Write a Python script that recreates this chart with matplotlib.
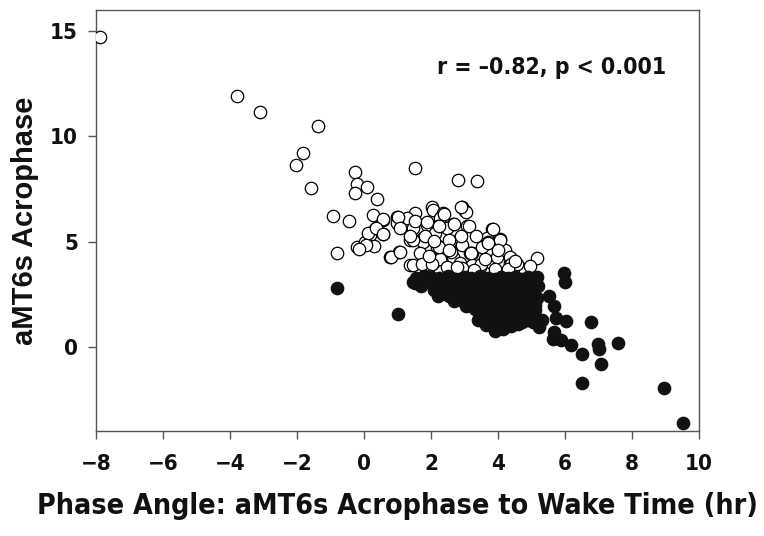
import numpy as np
import matplotlib
matplotlib.use("Agg")
from matplotlib import pyplot as plt
from matplotlib import font_manager

# Data ###################################################################
# open circles (acrophase >= ~3.5)
open_x = [-7.87, -3.8, -3.1, -1.36, -1.81, -2.03, -1.58, -0.26, -0.22, 0.1,
          -0.28, 0.38, -0.93, -0.46, 1.52, 2.79, 3.36, -0.82, -0.2, 5.15,
          0.28, 0.33, 0.18, 0.3, 0.03, 0.58, 0.98, 1.33, 1.52, 1.27,
          2.02, 2.05, 2.37, 2.92, 3.01, 2.27, 0.35, 0.13, 0.58, 0.98,
          1.47, 1.52, 1.87, 2.22, 2.67, 3.06, 2.47, 3.81, 4.06, 3.66,
          2.12, 1.77, 1.37, 2.57, 2.87, 2.2, 0.76, 1.05, 1.77, 2.17,
          2.92, 3.21, 2.67, 1.37, 1.72, 2.05, 2.27, 2.87, 3.21, 3.51,
          3.7, 3.16, 3.21, 2.92, 2.47, 3.76, 3.96, 4.21, 4.36, 4.66,
          4.81, 3.46, 3.9, 3.85, 4.07, 3.7, 4.36, 4.4, 4.8, 4.58,
          3.12, 3.05, 2.9, 2.39, 2.68, 1.01, 0.57, 0.36, 0.57, 0.06,
          -0.15, 0.79, 1.08, 1.45, 1.45, 1.67, 1.74, 2.03, 2.25, 2.61,
          2.76, 3.19, 3.48, 3.27, 4.29, 1.88, 2.25, 1.08, 1.37, 1.81,
          2.1, 2.54, 2.9, 3.34, 3.99, 4.5, 4.95, 3.6, 2.55, 1.95]
open_y = [14.68, 11.89, 11.16, 10.5, 9.18, 8.64, 7.53, 8.29, 7.72, 7.58,
          7.3, 7.03, 6.22, 5.98, 8.51, 7.91, 7.88, 4.45, 4.74, 4.21,
          6.28, 5.59, 5.32, 4.8, 5.0, 6.03, 6.19, 6.14, 6.35, 6.11,
          6.62, 6.5, 6.35, 6.66, 6.43, 6.11, 5.63, 5.4, 5.37, 5.87,
          5.63, 6.0, 5.79, 5.75, 5.84, 5.75, 5.63, 5.59, 5.11, 5.16,
          5.4, 5.16, 5.08, 5.0, 5.16, 4.8, 4.29, 4.53, 5.0, 4.76,
          4.84, 4.45, 4.29, 3.89, 3.97, 3.97, 4.2, 3.97, 3.81, 4.76,
          5.0, 4.45, 3.89, 3.74, 3.81, 4.05, 4.29, 4.61, 3.97, 3.74,
          3.66, 3.81, 3.7, 5.61, 5.1, 4.94, 4.29, 3.96, 3.64, 3.96,
          5.74, 6.39, 6.63, 6.31, 5.83, 6.15, 6.07, 5.66, 5.34, 4.85,
          4.64, 4.29, 4.53, 5.1, 3.88, 4.45, 3.96, 3.96, 4.77, 4.53,
          3.8, 4.45, 3.96, 3.64, 3.72, 5.91, 5.74, 5.66, 5.26, 5.26,
          5.02, 5.1, 5.26, 5.26, 4.61, 4.1, 3.85, 4.2, 4.6, 4.3]

# filled circles
fill_x = [-0.81, 1.01, 1.52, 1.69, 1.96, 2.22, 2.54, 2.95, 3.12, 3.56,
          3.7, 3.92, 4.14, 4.29, 4.72, 4.87, 5.23, 5.3, 5.09, 5.16,
          5.16, 5.52, 5.67, 5.74, 5.98, 6.0, 6.03, 6.76, 5.67, 5.64,
          5.89, 6.18, 6.5, 6.98, 7.02, 7.08, 7.59, 6.5, 8.94, 9.53,
          1.55, 1.8, 2.0, 2.25, 2.5, 2.75, 3.0, 3.2, 3.45, 3.7,
          3.9, 4.1, 4.3, 4.5, 4.7, 4.9, 5.1, 1.75, 2.3, 2.6,
          2.85, 3.1, 3.35, 3.6, 3.85, 4.05, 4.3, 4.55, 4.8, 5.0,
          5.2, 2.1, 2.45, 2.75, 3.0, 3.3, 3.55, 3.8, 4.0, 4.25,
          4.5, 4.75, 5.0, 2.55, 2.9, 3.15, 3.5, 3.75, 3.95, 4.2,
          4.45, 4.7, 4.95, 3.2, 3.55, 3.8, 4.05, 4.3, 4.55, 4.8,
          5.05, 3.3, 3.6, 3.85, 4.1, 4.35, 4.6, 4.85, 5.1, 3.75,
          4.0, 4.25, 4.5, 4.75, 5.0, 3.95, 4.2, 4.45, 5.05, 4.1,
          4.4, 3.4, 3.65, 4.15, 4.6, 2.7, 3.05, 1.45]
fill_y = [2.78, 1.57, 3.03, 2.91, 3.38, 2.43, 2.51, 2.18, 2.02, 1.54,
          1.21, 0.78, 1.05, 1.46, 1.21, 1.29, 0.97, 1.29, 2.02, 2.35,
          3.32, 2.43, 1.94, 1.38, 3.5, 3.07, 1.26, 1.21, 0.73, 0.4,
          0.32, 0.08, -0.32, 0.16, -0.08, -0.81, 0.21, -1.7, -1.94, -3.59,
          3.28, 3.35, 3.22, 3.3, 3.36, 3.25, 3.33, 3.27, 3.35, 3.3,
          3.24, 3.34, 3.28, 3.32, 3.25, 3.31, 3.22, 3.02, 2.95, 3.05,
          2.98, 3.08, 2.96, 3.04, 2.97, 3.06, 2.99, 3.03, 2.94, 3.05,
          2.9, 2.72, 2.65, 2.75, 2.68, 2.74, 2.66, 2.71, 2.64, 2.77,
          2.69, 2.73, 2.62, 2.4, 2.35, 2.45, 2.38, 2.42, 2.33, 2.44,
          2.37, 2.41, 2.36, 2.1, 2.15, 2.05, 2.12, 2.08, 2.14, 2.03,
          2.11, 1.82, 1.76, 1.85, 1.78, 1.83, 1.74, 1.8, 1.77, 1.52,
          1.47, 1.55, 1.49, 1.53, 1.45, 1.18, 1.24, 1.15, 1.2, 0.95,
          1.0, 1.3, 1.05, 0.88, 1.1, 2.2, 1.95, 3.1]

# Fonts: condensed bold if the machine has one ##########################
have_cond = any(f.name == 'DejaVu Sans' and f.stretch == 'condensed'
                for f in font_manager.fontManager.ttflist)
if have_cond:
    nfont = dict(family='DejaVu Sans', fontstretch='condensed')
    xl_size, tk_size, an_size = 20.5, 16, 16.5
else:
    nfont = dict(family=['Liberation Sans', 'DejaVu Sans'])
    xl_size, tk_size, an_size = 19, 14.5, 15.5
wfont = dict(family=['Liberation Sans', 'DejaVu Sans'])

# Figure ##################################################################
fig = plt.figure(figsize=(7.64, 5.36), dpi=100)
ax = fig.add_axes([0.1257, 0.195, 0.7893, 0.787])

ax.scatter(open_x, open_y, s=80, facecolors='white', edgecolors='black',
           linewidths=0.9, zorder=3)
ax.scatter(fill_x, fill_y, s=80, facecolors='#111111', edgecolors='#111111',
           linewidths=0.9, zorder=4)

ax.set_xlim(-8, 10)
ax.set_ylim(-4, 16)
ax.set_xticks(np.arange(-8, 11, 2))
ax.set_yticks([0, 5, 10, 15])
ax.set_xticklabels(['\u22128', '\u22126', '\u22124', '\u22122', '0', '2', '4', '6', '8', '10'])
for sp in ax.spines.values():
    sp.set_color('#555555')
    sp.set_linewidth(1.0)
ax.tick_params(direction='out', length=6, width=1, color='#555555')
ax.tick_params(axis='x', pad=10)
ax.tick_params(axis='y', pad=7)
for lab in ax.get_xticklabels() + ax.get_yticklabels():
    lab.set(**nfont)
    lab.set_fontweight('bold')
    lab.set_fontsize(tk_size)
    lab.set_color('#111111')

ax.set_xlabel('Phase Angle: aMT6s Acrophase to Wake Time (hr)', **nfont,
              fontweight='bold', fontsize=xl_size, color='#111111', labelpad=13)
ax.set_ylabel('aMT6s Acrophase', **wfont, fontweight='bold', fontsize=21,
              color='#111111', labelpad=8)

ax.text(5.6, 13.25, 'r = \u20130.82, p < 0.001', **nfont, fontweight='bold',
        fontsize=an_size, ha='center', va='center', color='#111111')

fig.savefig('out.png', dpi=100)
